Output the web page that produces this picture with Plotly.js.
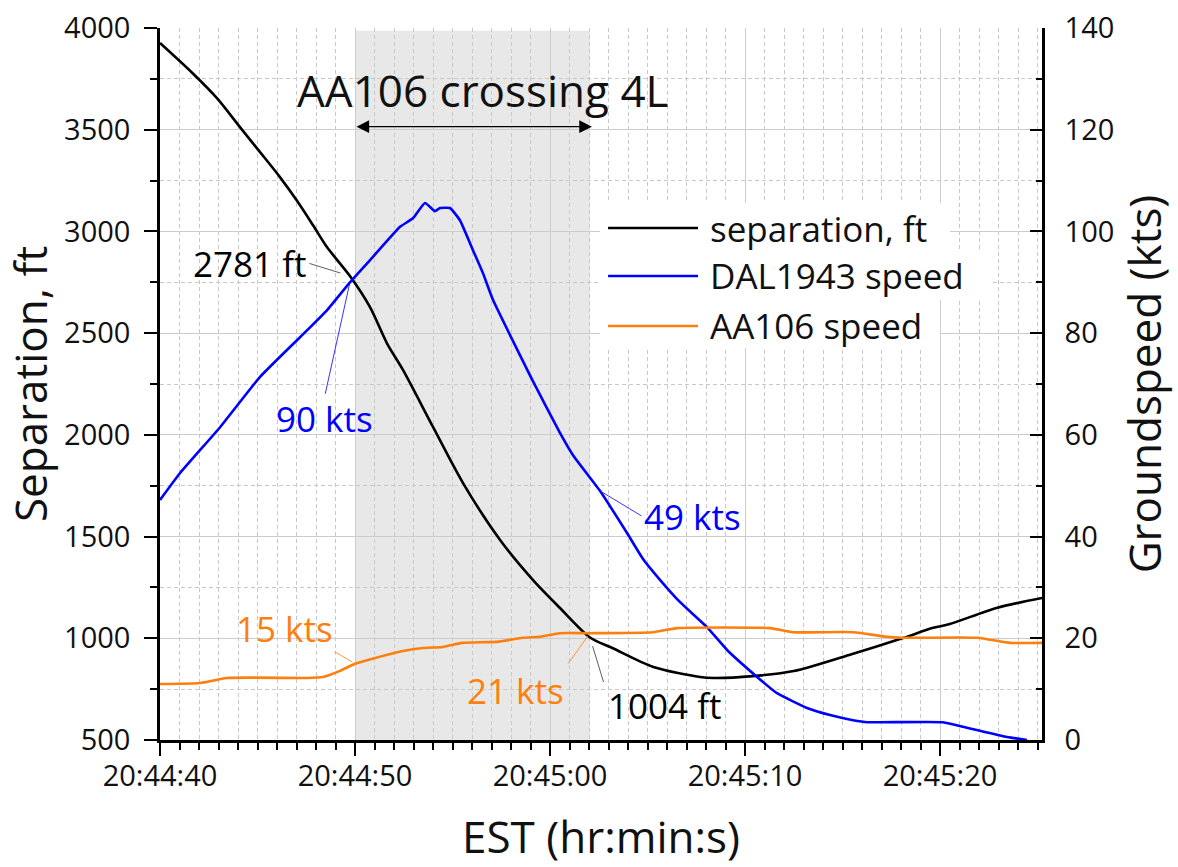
<!DOCTYPE html>
<html><head><meta charset="utf-8">
<script src="https://cdn.plot.ly/plotly-3.0.1.min.js"></script>
<style>html,body{margin:0;padding:0;background:#fff}#chart{width:1178px;height:867px}</style>
</head><body><div id="chart"></div>
<script>
// Times are seconds after 20:44:40 EST (2023-01-13)
const sepTime = [0, 1.7, 2.92, 4.1, 5.13, 6.15, 7.0, 7.85, 8.56, 9.74, 10.77, 11.64, 12.46, 14.0, 15.54, 17.44, 19.13, 20.5, 22.05, 23.2, 25.3, 27.7, 28.4, 30.4, 32.5, 35.5, 38.1, 39.6, 40.5, 42.9, 45.23];
const sepFt   = [3926, 3775, 3655, 3513, 3390, 3267, 3154, 3030, 2923, 2781, 2628, 2450, 2319, 2039, 1763, 1483, 1286, 1150, 1004, 952, 859, 810, 805, 814, 839, 923, 1001, 1050, 1070, 1149, 1198];

const dalTime = [0, 1.03, 3.08, 5.13, 7.18, 8.56, 9.74, 10.92, 12.31, 12.97, 13.59, 14.1, 14.36, 14.87, 15.38, 16.05, 16.56, 17.08, 19.13, 20.51, 21.18, 22.56, 23.95, 24.77, 25.64, 26.67, 28.05, 29.08, 30.62, 31.64, 33.18, 34.36, 35.54, 36.3, 40.15, 41.38, 43.44, 44.46];
const dalKts  = [47.2, 52.5, 61.5, 71.4, 79.2, 84.5, 90, 95, 100.9, 102.6, 105.6, 104, 104.6, 104.6, 102.2, 96.3, 91.8, 86.5, 70.5, 60.4, 56, 49, 40.7, 35.6, 31.5, 27.1, 22.2, 17.7, 12.4, 9.2, 6.3, 4.9, 3.9, 3.5, 3.5, 2.4, 0.6, 0];

const aaTime = [0, 2.05, 3.44, 7.54, 8.36, 9.23, 10, 10.62, 12.46, 13.49, 14.51, 15.49, 17.28, 18.62, 19.49, 20.51, 22.05, 25.28, 26.51, 31.28, 32.46, 35.54, 37.28, 38.1, 41.9, 43.6, 45.23];
const aaKts  = [11.0, 11.2, 12.2, 12.2, 12.4, 13.6, 15, 15.7, 17.5, 18.1, 18.3, 19.1, 19.3, 20.1, 20.3, 21, 21, 21.2, 22, 22, 21.2, 21.2, 20.3, 20.1, 20.1, 19.1, 19.1];

const seriesNames = ['separation, ft', 'DAL1943 speed', 'AA106 speed'];
const seriesColors = ['#000000', '#0000ff', '#ff7f0e'];

const crossingLabel = 'AA106 crossing 4L';
const crossingStart = 10.0;   // 20:44:50
const crossingEnd = 22.05;    // ~20:45:02
const crossingArrowFt = 3515;

const calloutText  = ['2781 ft', '90 kts', '49 kts', '15 kts', '21 kts', '1004 ft'];
const calloutTime  = [9.74, 9.74, 22.56, 10.0, 22.05, 22.05];
const calloutValue = [2781, 90, 49, 15, 21, 1004];
const calloutAxis  = ['y', 'y2', 'y2', 'y2', 'y2', 'y'];

const xRangeEnd = 45.23;

function pad2(n){ return String(n).padStart(2,'0'); }
function toDate(s){
  const total = 40 + s;
  const m = Math.floor(total / 60);
  const sec = total - 60 * m;
  return '2023-01-13 20:' + pad2(44 + m) + ':' + sec.toFixed(3).padStart(6, '0');
}

const FONT = 'Open Sans, Lato, sans-serif';

const traces = [
  {x: sepTime.map(toDate), y: sepFt, name: seriesNames[0], type: 'scatter', mode: 'lines',
   line: {color: seriesColors[0], width: 2.6, shape: 'spline', smoothing: 0.8}, yaxis: 'y', showlegend: false},
  {x: dalTime.map(toDate), y: dalKts, name: seriesNames[1], type: 'scatter', mode: 'lines',
   line: {color: seriesColors[1], width: 2.6, shape: 'spline', smoothing: 0.4}, yaxis: 'y2', showlegend: false},
  {x: aaTime.map(toDate), y: aaKts, name: seriesNames[2], type: 'scatter', mode: 'lines',
   line: {color: seriesColors[2], width: 2.6, shape: 'spline', smoothing: 0.5}, yaxis: 'y2', showlegend: false}
];

// callout styling (positions in pixels relative to the marked point)
const calloutColor = ['#000000', '#0000ff', '#0000ff', '#ff7f0e', '#ff7f0e', '#000000'];
const leaderTail = [[-42,-13],[-25,113],[43,26],[-22,-13],[-23,32],[14,46]];
const leaderStandoff = [10, 1, 3, 3, 3, 9];
const textShift = [[-100,12],[-25,-136],[93,-26],[-71,35],[-74,-57],[75,-68]];

const annotations = [];
calloutText.forEach((t, i) => {
  annotations.push({
    x: toDate(calloutTime[i]), y: calloutValue[i], xref: 'x', yref: calloutAxis[i],
    text: '', showarrow: true, arrowhead: 0, arrowwidth: 0.8,
    arrowcolor: i === 0 || i === 5 ? '#333' : calloutColor[i],
    ax: leaderTail[i][0], ay: leaderTail[i][1], standoff: leaderStandoff[i]
  });
  annotations.push({
    x: toDate(calloutTime[i]), y: calloutValue[i], xref: 'x', yref: calloutAxis[i],
    text: t, showarrow: false, xshift: textShift[i][0], yshift: textShift[i][1],
    xanchor: 'center', yanchor: 'middle',
    font: {family: FONT, size: 35, color: calloutColor[i]}
  });
});
// crossing arrow
annotations.push({
  x: toDate(crossingEnd + 0.1), y: crossingArrowFt, xref: 'x', yref: 'y',
  ax: toDate(crossingStart), ay: crossingArrowFt, axref: 'x', ayref: 'y',
  text: '', showarrow: true, arrowhead: 2, arrowside: 'end+start', arrowsize: 2.3,
  arrowwidth: 1.1, arrowcolor: '#000', standoff: 0, startstandoff: 0
});
annotations.push({
  x: 0.366, y: 0.913, xref: 'paper', yref: 'paper', text: crossingLabel, showarrow: false,
  xanchor: 'center', yanchor: 'middle', font: {family: FONT, size: 44, color: '#111'}
});

// custom legend
const legendRows = [0.719, 0.6517, 0.5815];
const shapes = [
  {type: 'rect', xref: 'x', yref: 'paper', x0: toDate(crossingStart), x1: toDate(crossingEnd),
   y0: 0, y1: 0.996, fillcolor: '#e8e8e8', line: {width: 0}, layer: 'below'},
  {type: 'rect', xref: 'paper', yref: 'paper', x0: 0.4989, x1: 0.8957, y0: 0.6868, y1: 0.7542,
   fillcolor: '#ffffff', line: {width: 0}, layer: 'above'},
  {type: 'rect', xref: 'paper', yref: 'paper', x0: 0.4989, x1: 0.941, y0: 0.618, y1: 0.6868,
   fillcolor: '#ffffff', line: {width: 0}, layer: 'above'},
  {type: 'rect', xref: 'paper', yref: 'paper', x0: 0.4989, x1: 0.8844, y0: 0.5506, y1: 0.618,
   fillcolor: '#ffffff', line: {width: 0}, layer: 'above'}
];
legendRows.forEach((ry, i) => {
  shapes.push({type: 'line', xref: 'paper', yref: 'paper', x0: 0.508, x1: 0.610, y0: ry, y1: ry,
    line: {color: seriesColors[i], width: 2.6}, layer: 'above'});
  annotations.push({x: 0.6213, y: ry, xref: 'paper', yref: 'paper', text: seriesNames[i],
    showarrow: false, xanchor: 'left', yanchor: 'middle',
    font: {family: FONT, size: 35, color: '#111'}});
});

const gridMajor = '#cccccc';
const gridMinor = '#c8c8c8';

const layout = {
  width: 1178, height: 867,
  margin: {l: 160, r: 136, t: 28, b: 127, pad: 0},
  paper_bgcolor: '#ffffff', plot_bgcolor: '#ffffff',
  font: {family: FONT, color: '#111'},
  showlegend: false,
  xaxis: {
    type: 'date', range: [toDate(0), toDate(xRangeEnd)],
    tick0: toDate(0), dtick: 10000, tickformat: '%H:%M:%S',
    showline: true, linecolor: '#000', linewidth: 2.5,
    ticks: 'outside', ticklen: 13, tickwidth: 2, tickcolor: '#000',
    tickfont: {family: FONT, size: 29, color: '#111'}, ticklabelstandoff: -5,
    showgrid: true, gridcolor: gridMajor, gridwidth: 1,
    minor: {dtick: 1000, ticks: 'outside', ticklen: 7, tickwidth: 2, tickcolor: '#000',
            showgrid: true, gridcolor: gridMinor, gridwidth: 1, griddash: '4px,3px'},
    zeroline: false,
    title: {text: 'EST (hr:min:s)', font: {family: FONT, size: 44, color: '#111'}, standoff: 30}
  },
  yaxis: {
    range: [500, 4000], dtick: 500, tick0: 500,
    showline: true, linecolor: '#000', linewidth: 2.5,
    ticks: 'outside', ticklen: 13, tickwidth: 2, tickcolor: '#000',
    tickfont: {family: FONT, size: 29, color: '#111'}, ticklabelstandoff: 8,
    showgrid: true, gridcolor: gridMajor, gridwidth: 1,
    minor: {dtick: 250, ticks: 'outside', ticklen: 7, tickwidth: 2, tickcolor: '#000',
            showgrid: true, gridcolor: gridMinor, gridwidth: 1, griddash: '4px,3px'},
    zeroline: false,
    title: {text: 'Separation, ft', font: {family: FONT, size: 44, color: '#111'}, standoff: 10}
  },
  yaxis2: {
    overlaying: 'y', side: 'right', range: [0, 140], dtick: 20, tick0: 0,
    showline: true, linecolor: '#000', linewidth: 2.5,
    ticks: 'inside', ticklen: 12, tickwidth: 2, tickcolor: '#000',
    tickfont: {family: FONT, size: 29, color: '#111'}, ticklabelstandoff: 14,
    showgrid: false, zeroline: false,
    minor: {dtick: 10, ticks: 'inside', ticklen: 6, tickwidth: 2, tickcolor: '#000', showgrid: false},
    title: {text: 'Groundspeed (kts)', font: {family: FONT, size: 44, color: '#111'}, standoff: 10}
  },
  shapes: shapes,
  annotations: annotations
};

Plotly.newPlot('chart', traces, layout, {displayModeBar: false, responsive: false});
</script></body></html>
